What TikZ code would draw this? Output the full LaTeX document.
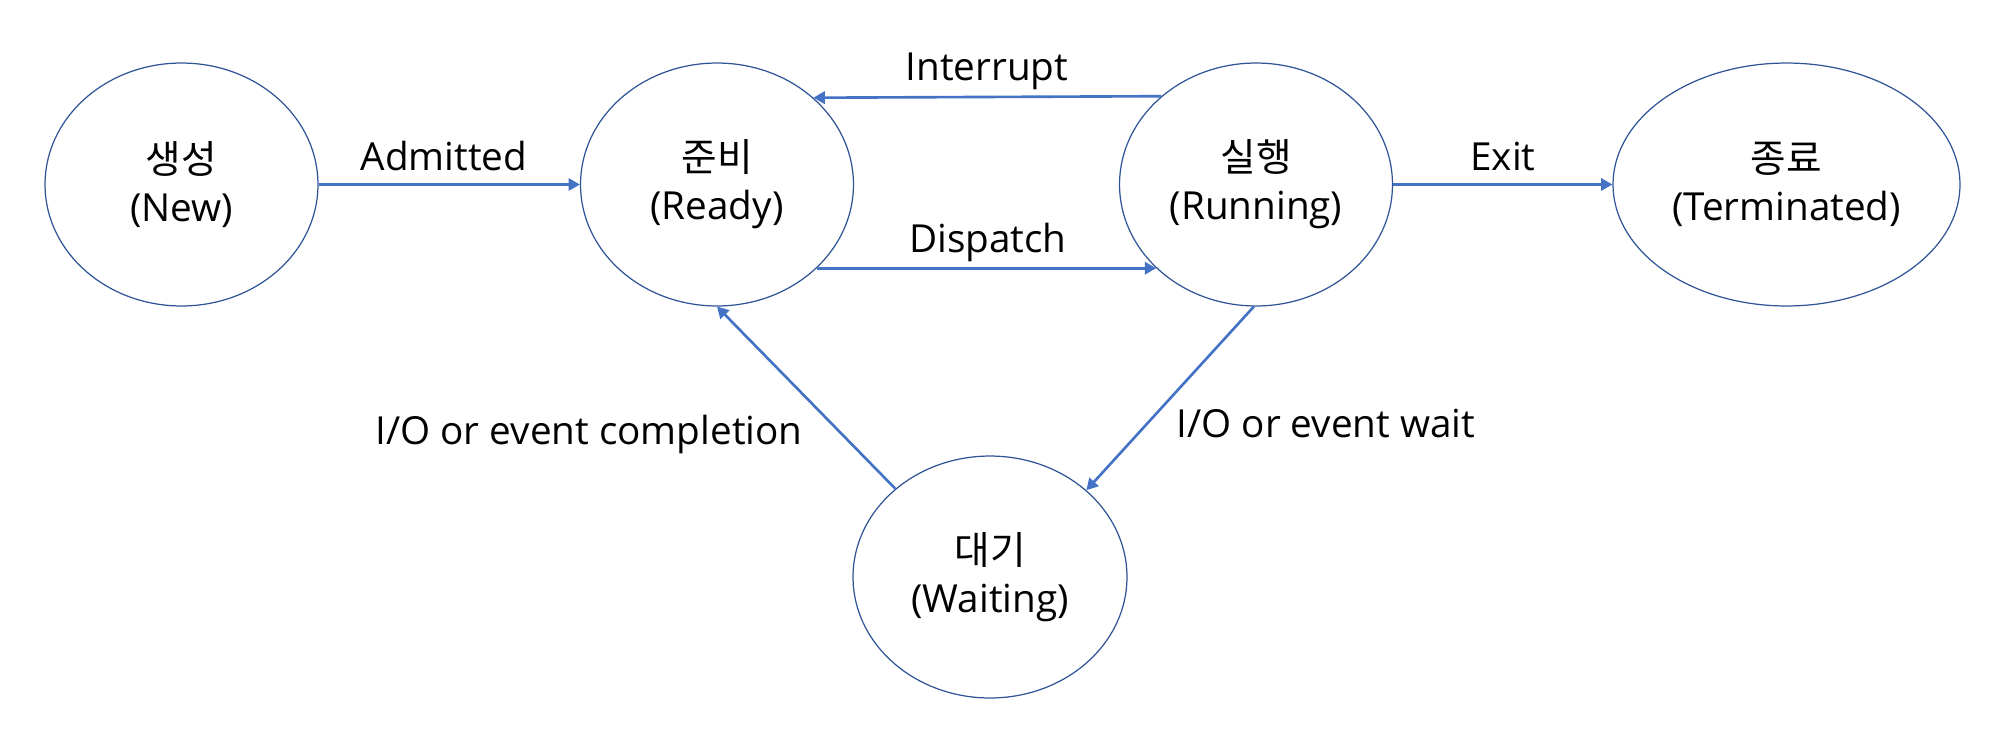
\documentclass[tikz,border=0pt]{standalone}
\usepackage{fontspec}
\setmainfont{Open Sans}
\newfontfamily\kr{Noto Sans CJK KR}
\usetikzlibrary{shapes.geometric,arrows.meta}
\definecolor{edgeblue}{HTML}{4472C4}
\definecolor{rimblue}{HTML}{2F5597}
\begin{document}
\begin{tikzpicture}[x=0.02cm,y=-0.02cm,
  state/.style={ellipse, draw=rimblue, line width=0.7pt, minimum width=5.46cm,
    minimum height=4.86cm, inner sep=0pt, align=center,
    font=\fontsize{22}{27.3}\selectfont},
  flow/.style={draw=edgeblue, line width=1.5pt, -{Triangle[length=6.5pt,width=7pt]}},
  lbl/.style={anchor=base, inner sep=0pt, font=\fontsize{22}{24}\selectfont}]
\useasboundingbox (0,0) rectangle (2000,741);
\node[state] (new) at (181.5,184.5) {{\kr\fontsize{22}{27.3}\selectfont 생성}\\(New)};
\node[state] (ready) at (717,184.5) {{\kr\fontsize{22}{27.3}\selectfont 준비}\\(Ready)};
\node[state] (running) at (1256,184.5) {{\kr\fontsize{22}{27.3}\selectfont 실행}\\(Running)};
\node[state, minimum width=6.94cm] (term) at (1786.5,184.5) {{\kr\fontsize{22}{27.3}\selectfont 종료}\\(Terminated)};
\node[state, minimum width=5.48cm, minimum height=4.84cm] (wait) at (990,577) {{\kr\fontsize{22}{27.3}\selectfont 대기}\\(Waiting)};

\draw[flow] (new) -- (ready);
\draw[flow] (running.137.8) -- (ready.42.2);
\draw[flow] (ready.-40.85) -- (running.220.85);
\draw[flow] (running) -- (term);
\draw[flow] (running.-91.4) -- (wait.42.8);
\draw[flow] (wait.137.8) -- (ready.-90);

\node[lbl] (ladm) at (444,170) {Admitted};
\node[lbl] (lint) at (987,80) {Interrupt};
\node[lbl] (ldis) at (988,252) {Dispatch};
\node[lbl] (lexit) at (1503,170) {Exit};
\node[lbl] (lcomp) at (589,444) {I/O or event completion};
\node[lbl] (lwait) at (1326,437) {I/O or event wait};
\end{tikzpicture}
\end{document}
